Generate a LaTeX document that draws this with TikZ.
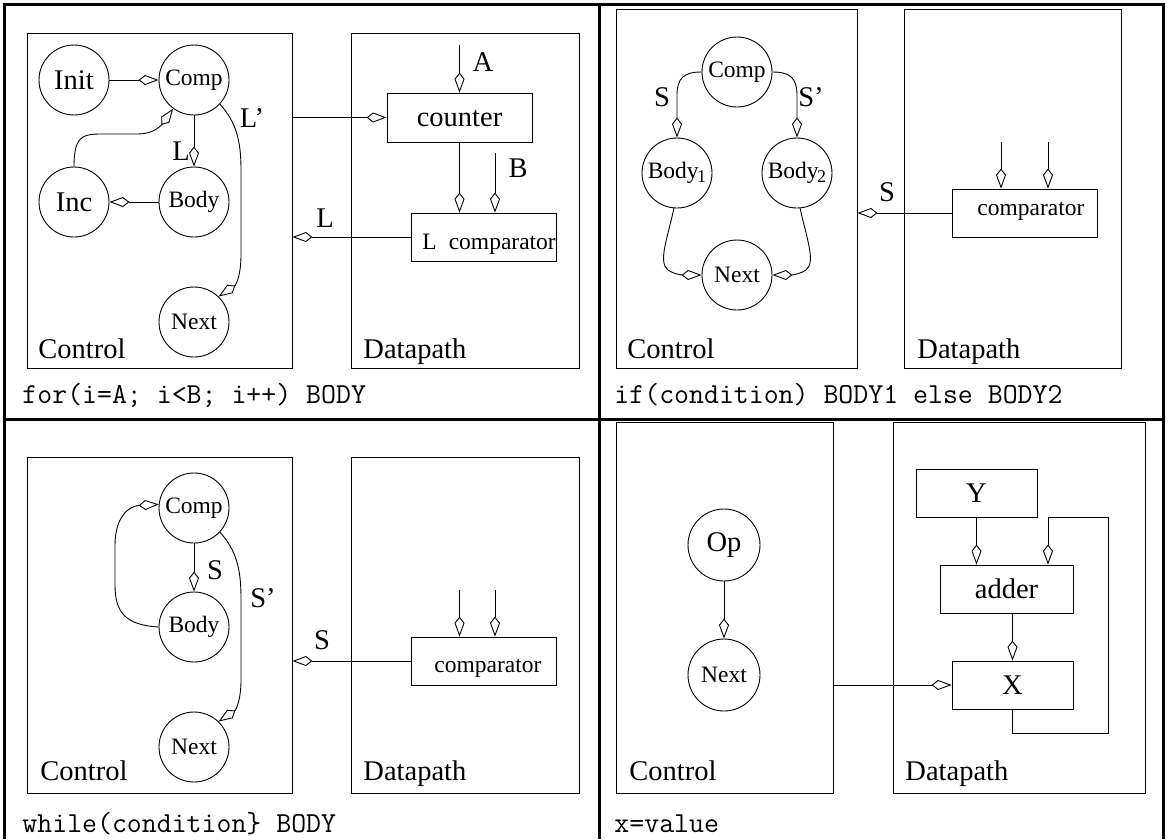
\documentclass[tikz,border=0pt]{standalone}
\usepackage{fontspec}
\setmainfont{Liberation Serif}
\usetikzlibrary{arrows.meta}
\newcommand\fbig{\fontsize{28.5}{30}\selectfont}
\newcommand\fsml{\fontsize{23.5}{25}\selectfont}
\newcommand\fcap{\fontsize{29}{30}\selectfont\ttfamily}
\newcommand\subone[1]{\kern-1.5pt\raisebox{-4pt}{\fontsize{18}{18}\selectfont #1}}
\begin{document}
\begin{tikzpicture}[x=1pt,y=-1pt,
 line width=0.9pt,
 arr/.style={-{Kite[open,length=20pt,width=10pt,inset=6.5pt]}},
 st/.style={circle,draw,minimum size=70pt,inner sep=0pt},
 blk/.style={rectangle,draw,inner sep=0pt},
 region/.style={rectangle,draw,inner sep=0pt},
 lab/.style={inner sep=0pt,font=\fbig},
 txt/.style={inner sep=0pt,anchor=base west},
 capt/.style={inner sep=0pt,anchor=base west,font=\fcap},
 frame/.style={line width=3pt}]
\useasboundingbox (0,0) rectangle (1168,839);

% table frame
\draw[frame] (4,839) -- (4,4) -- (1163,4) -- (1163,839);
\draw[frame] (599,4) -- (599,839);
\draw[frame] (4,419) -- (1163,419);

%%%%%%%%%%%% Q1: for loop
\node[region,minimum width=265pt,minimum height=335pt] (ctl1) at (159.5,200.5) {};
\node[region,minimum width=228pt,minimum height=335pt] (dp1) at (465,200.5) {};
\node[txt,font=\fbig] (ctl1t) at (38,358) {Control};
\node[txt,font=\fbig] (dp1t) at (363,358) {Datapath};

\node[st,font=\fbig] (init1) at (74,80) {Init};
\node[st,font=\fsml] (comp1) at (194,80) {Comp};
\node[st,font=\fbig] (inc1) at (74,202) {Inc};
\node[st,font=\fsml] (body1) at (194,202) {Body};
\node[st,font=\fsml] (next1) at (194,322) {Next};

\draw[arr] (init1) -- (comp1);
\draw[arr] (comp1) -- (body1);
\draw[arr] (body1) -- (inc1);
\draw[arr] (inc1.north) .. controls (74,132) and (85,134) .. (110,134) -- (138,134)
  .. controls (152,134) and (160,127) .. (comp1.234);
\draw[arr] (comp1.-43) .. controls (236,122) and (241,140) .. (241,170) -- (241,255)
  .. controls (241,275) and (236,285) .. (next1.46);
\node[lab] (l1) at (181,151) {L};
\node[lab] (l1p) at (252,118) {L’};

\node[blk,minimum width=145pt,minimum height=49pt] (counter) at (459.5,117.5) {};
\node[inner sep=0pt,font=\fbig] (countert) at (459.5,119) {counter};
\node[blk,minimum width=145pt,minimum height=48pt] (cmp1) at (483.5,237) {};
\node[txt,font=\fsml] (cmp1t) at (422,249) {L\hspace{12pt}comparator};
\coordinate (inA) at (459.5,45);
\coordinate (inB) at (495,153);
\draw[arr] (inA) -- (inA |- counter.north);
\draw[arr] (counter.south) -- (counter.south |- cmp1.north);
\draw[arr] (inB) -- (inB |- cmp1.north);
\draw[arr] (counter.west -| ctl1.east) -- (counter.west);
\draw[arr] (cmp1.west) -- (cmp1.west -| ctl1.east);
\node[lab] (lA) at (483,62) {A};
\node[lab] (lB) at (518,168) {B};
\node[lab] (lL) at (325,218) {L};

\node[capt] (cap1) at (22,403) {for(i=A; i<B; i++) BODY};

%%%%%%%%%%%% Q2: if
\node[region,minimum width=241pt,minimum height=359pt] (ctl2) at (736.5,188.5) {};
\node[region,minimum width=217pt,minimum height=359pt] (dp2) at (1012.5,188.5) {};
\node[txt,font=\fbig] (ctl2t) at (627,358) {Control};
\node[txt,font=\fbig] (dp2t) at (917,358) {Datapath};

\node[st,font=\fsml] (comp2) at (737,72) {Comp};
\node[st,font=\fsml] (bodya) at (677,173) {Body\subone{1}};
\node[st,font=\fsml] (bodyb) at (797,173) {Body\subone{2}};
\node[st,font=\fsml] (next2) at (737,275) {Next};
\draw[arr] (comp2.west) .. controls (684,72) and (677,78) .. (677,95) -- (bodya.north);
\draw[arr] (comp2.east) .. controls (790,72) and (797,78) .. (797,95) -- (bodyb.north);
\draw[arr] (bodya.-95) .. controls (667,240) and (658,262) .. (668,270)
  .. controls (672,273) and (680,275) .. (next2.west);
\draw[arr] (bodyb.-85) .. controls (807,240) and (816,262) .. (806,270)
  .. controls (802,273) and (794,275) .. (next2.east);
\node[lab] (s2) at (662,97) {S};
\node[lab] (s2p) at (811,97) {S’};

\node[blk,minimum width=145pt,minimum height=48pt] (cmp2) at (1024.5,213) {};
\node[txt,font=\fsml] (cmp2t) at (977,215) {comparator};
\coordinate (in2a) at (1001,142);
\coordinate (in2b) at (1048,142);
\draw[arr] (in2a) -- (in2a |- cmp2.north);
\draw[arr] (in2b) -- (in2b |- cmp2.north);
\draw[arr] (cmp2.west) -- (cmp2.west -| ctl2.east);
\node[lab] (s2c) at (887,192) {S};

\node[capt] (cap2) at (614,403) {if(condition) BODY1 else BODY2};

%%%%%%%%%%%% Q3: while
\node[region,minimum width=265pt,minimum height=336pt] (ctl3) at (159.5,625) {};
\node[region,minimum width=228pt,minimum height=336pt] (dp3) at (465,625) {};
\node[txt,font=\fbig] (ctl3t) at (40,780) {Control};
\node[txt,font=\fbig] (dp3t) at (363,780) {Datapath};

\node[st,font=\fsml] (comp3) at (194,508) {Comp};
\node[st,font=\fsml] (body3) at (194,627) {Body};
\node[st,font=\fsml] (next3) at (194,747) {Next};
\draw[arr] (comp3) -- (body3);
\draw[arr] (body3.west) .. controls (125,625) and (115,612) .. (115,585) -- (115,545)
  .. controls (115,518) and (128,506) .. (comp3.174);
\draw[arr] (comp3.-43) .. controls (236,550) and (241,568) .. (241,598) -- (241,680)
  .. controls (241,700) and (236,710) .. (next3.46);
\node[lab] (s3) at (215,570) {S};
\node[lab] (s3p) at (263,598) {S’};

\node[blk,minimum width=145pt,minimum height=48pt] (cmp3) at (483.5,661) {};
\node[txt,font=\fsml] (cmp3t) at (434,672) {comparator};
\coordinate (in3a) at (459.5,590);
\coordinate (in3b) at (495,590);
\draw[arr] (in3a) -- (in3a |- cmp3.north);
\draw[arr] (in3b) -- (in3b |- cmp3.north);
\draw[arr] (cmp3.west) -- (cmp3.west -| ctl3.east);
\node[lab] (s3c) at (322,640) {S};

\node[capt] (cap3) at (22,832) {while(condition\} BODY};

%%%%%%%%%%%% Q4: x=value
\node[region,minimum width=217pt,minimum height=371pt] (ctl4) at (724.5,607.5) {};
\node[region,minimum width=252pt,minimum height=371pt] (dp4) at (1019,607.5) {};
\node[txt,font=\fbig] (ctl4t) at (629,780) {Control};
\node[txt,font=\fbig] (dp4t) at (905,780) {Datapath};

\node[st,font=\fbig,minimum size=72pt] (op4) at (724,545) {Op};
\node[st,font=\fsml,minimum size=72pt] (next4) at (724,675) {Next};
\draw[arr] (op4) -- (next4);

\node[blk,minimum width=121pt,minimum height=48pt,font=\fbig] (Y) at (976.5,493) {Y};
\node[blk,minimum width=133pt,minimum height=48pt,font=\fbig] (adder) at (1006.5,589) {adder};
\node[blk,minimum width=121pt,minimum height=48pt,font=\fbig] (X) at (1012.5,685) {X};
\coordinate (fb1) at (1108,733);
\coordinate (fb2) at (1048,517);
\draw[arr] (Y.south) -- (Y.south |- adder.north);
\draw[arr] (adder.south -| X.north) -- (X.north);
\draw[arr] (X.south) |- (fb1) |- (fb2) -- (fb2 |- adder.north);
\draw[arr] (X.west -| ctl4.east) -- (X.west);

\node[capt] (cap4) at (614,832) {x=value};
\end{tikzpicture}
\end{document}
